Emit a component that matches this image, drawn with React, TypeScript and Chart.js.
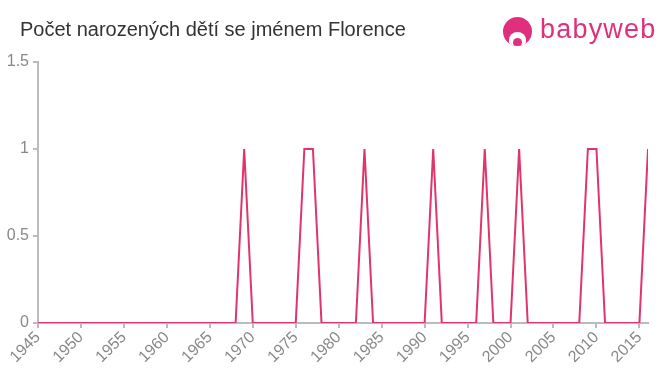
import React, { useEffect, useRef } from "react";
import Chart from "chart.js/auto";

const title = "Počet narozených dětí se jménem Florence";
const years: number[] = [];
for (let y = 1945; y <= 2016; y++) years.push(y);
const oneYears = [1969, 1976, 1977, 1983, 1991, 1997, 2001, 2009, 2010, 2016];
const counts = years.map((y) => (oneYears.includes(y) ? 1 : 0));
const yTicks = [0, 0.5, 1, 1.5];

export default function App() {
  const ref = useRef<HTMLCanvasElement>(null);
  useEffect(() => {
    const ctx = ref.current!;
    const chart = new Chart(ctx, {
      type: "line",
      data: {
        datasets: [
          {
            data: years.map((y, i) => ({ x: y, y: counts[i] })),
            borderColor: "#e0356a",
            borderWidth: 2,
            pointRadius: 0,
            tension: 0,
            fill: false,
          },
        ],
      },
      options: {
        animation: false,
        responsive: false,
        plugins: { legend: { display: false }, tooltip: { enabled: false } },
        layout: { padding: { top: 62, right: 12, left: 0, bottom: 0 } },
        scales: {
          x: {
            type: "linear",
            min: 1945,
            max: 2016,
            afterFit: (s: any) => { s.height = 52; },
            afterBuildTicks: (s: any) => {
              const t = [];
              for (let v = 1945; v <= 2015; v += 5) t.push({ value: v });
              s.ticks = t;
            },
            ticks: {
              color: "#888",
              font: { size: 16, family: "Arial, Liberation Sans, sans-serif" },
              maxRotation: 45,
              minRotation: 45,
              autoSkip: false,
              padding: 0,
              callback: (v: any) => String(v),
            },
            grid: { drawOnChartArea: false, tickLength: 5, color: "#bbb", lineWidth: 2 },
            border: { color: "#bbb", width: 2 },
          },
          y: {
            min: 0,
            max: 1.5,
            afterFit: (s: any) => { s.width = 38; },
            afterBuildTicks: (s: any) => { s.ticks = yTicks.map((v) => ({ value: v })); },
            ticks: {
              color: "#888",
              font: { size: 16, family: "Arial, Liberation Sans, sans-serif" },
              padding: 4,
              callback: (v: any) => String(v),
            },
            grid: { drawOnChartArea: false, tickLength: 5, color: "#bbb", lineWidth: 2 },
            border: { color: "#bbb", width: 2 },
          },
        },
      },
    });
    return () => chart.destroy();
  }, []);
  return (
    <div style={{ position: "fixed", left: 0, top: 0, width: 660, height: 375, background: "#fff", fontFamily: "Arial, 'Liberation Sans', sans-serif" }}>
      <canvas ref={ref} width={660} height={375} style={{ position: "absolute", left: 0, top: 0 }} />
      <div style={{ position: "absolute", left: 20, top: 18, fontSize: 20, color: "#333", whiteSpace: "nowrap" }}>{title}</div>
      <div style={{ position: "absolute", left: 503, top: 17, width: 29, height: 29, borderRadius: "50%", background: "#e0307d", overflow: "hidden" }}>
        <div style={{ position: "absolute", left: 6, top: 15, width: 17, height: 16, borderRadius: "50% 50% 40% 40%", background: "#fff" }} />
        <div style={{ position: "absolute", left: 10, top: 21, width: 9, height: 9, borderRadius: "50%", background: "#e0307d" }} />
      </div>
      <div style={{ position: "absolute", left: 540, top: 14, fontSize: 27, color: "#e0307d", letterSpacing: 1.2, whiteSpace: "nowrap" }}>babyweb</div>
    </div>
  );
}
